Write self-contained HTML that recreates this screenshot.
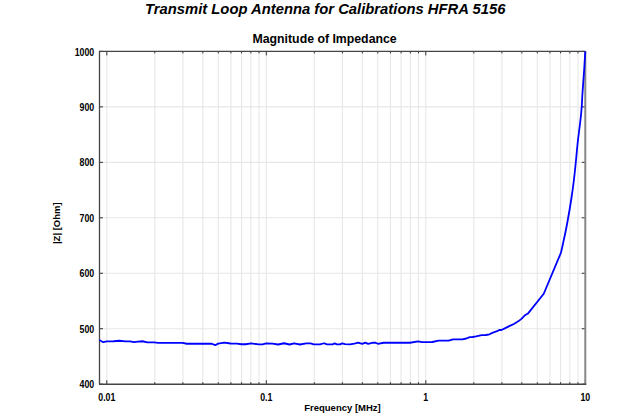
<!DOCTYPE html>
<html><head><meta charset="utf-8"><style>
html,body{margin:0;padding:0;background:#fff;}
body{width:640px;height:420px;overflow:hidden;}
svg{display:block;font-family:"Liberation Sans",sans-serif;}
</style></head><body>
<svg width="640" height="420" viewBox="0 0 640 420">
<rect width="640" height="420" fill="#fff"/>
<text x="325.2" y="14.1" text-anchor="middle" font-size="14.8" font-weight="bold" font-style="italic" fill="#000">Transmit Loop Antenna for Calibrations HFRA 5156</text>
<text x="324.6" y="42.9" text-anchor="middle" font-size="12.3" font-weight="bold" fill="#000">Magnitude of Impedance</text>
<g stroke="#e7e7e7" stroke-width="1.1" fill="none">
<line x1="106.80" y1="51.40" x2="106.80" y2="384.20"/>
<line x1="154.81" y1="51.40" x2="154.81" y2="384.20"/>
<line x1="182.90" y1="51.40" x2="182.90" y2="384.20"/>
<line x1="202.83" y1="51.40" x2="202.83" y2="384.20"/>
<line x1="218.28" y1="51.40" x2="218.28" y2="384.20"/>
<line x1="230.91" y1="51.40" x2="230.91" y2="384.20"/>
<line x1="241.59" y1="51.40" x2="241.59" y2="384.20"/>
<line x1="250.84" y1="51.40" x2="250.84" y2="384.20"/>
<line x1="259.00" y1="51.40" x2="259.00" y2="384.20"/>
<line x1="266.30" y1="51.40" x2="266.30" y2="384.20"/>
<line x1="314.31" y1="51.40" x2="314.31" y2="384.20"/>
<line x1="342.40" y1="51.40" x2="342.40" y2="384.20"/>
<line x1="362.33" y1="51.40" x2="362.33" y2="384.20"/>
<line x1="377.78" y1="51.40" x2="377.78" y2="384.20"/>
<line x1="390.41" y1="51.40" x2="390.41" y2="384.20"/>
<line x1="401.09" y1="51.40" x2="401.09" y2="384.20"/>
<line x1="410.34" y1="51.40" x2="410.34" y2="384.20"/>
<line x1="418.50" y1="51.40" x2="418.50" y2="384.20"/>
<line x1="425.80" y1="51.40" x2="425.80" y2="384.20"/>
<line x1="473.81" y1="51.40" x2="473.81" y2="384.20"/>
<line x1="501.90" y1="51.40" x2="501.90" y2="384.20"/>
<line x1="521.83" y1="51.40" x2="521.83" y2="384.20"/>
<line x1="537.29" y1="51.40" x2="537.29" y2="384.20"/>
<line x1="549.92" y1="51.40" x2="549.92" y2="384.20"/>
<line x1="560.59" y1="51.40" x2="560.59" y2="384.20"/>
<line x1="569.84" y1="51.40" x2="569.84" y2="384.20"/>
<line x1="578.00" y1="51.40" x2="578.00" y2="384.20"/>
<line x1="585.30" y1="51.40" x2="585.30" y2="384.20"/>
<line x1="99.50" y1="328.73" x2="585.30" y2="328.73"/>
<line x1="99.50" y1="273.27" x2="585.30" y2="273.27"/>
<line x1="99.50" y1="217.80" x2="585.30" y2="217.80"/>
<line x1="99.50" y1="162.33" x2="585.30" y2="162.33"/>
<line x1="99.50" y1="106.87" x2="585.30" y2="106.87"/>
</g>
<g stroke="#333" stroke-width="1">
<line x1="106.80" y1="384.20" x2="106.80" y2="380.20"/>
<line x1="106.80" y1="51.40" x2="106.80" y2="55.40"/>
<line x1="154.81" y1="384.20" x2="154.81" y2="382.20"/>
<line x1="154.81" y1="51.40" x2="154.81" y2="53.40"/>
<line x1="182.90" y1="384.20" x2="182.90" y2="382.20"/>
<line x1="182.90" y1="51.40" x2="182.90" y2="53.40"/>
<line x1="202.83" y1="384.20" x2="202.83" y2="382.20"/>
<line x1="202.83" y1="51.40" x2="202.83" y2="53.40"/>
<line x1="218.28" y1="384.20" x2="218.28" y2="382.20"/>
<line x1="218.28" y1="51.40" x2="218.28" y2="53.40"/>
<line x1="230.91" y1="384.20" x2="230.91" y2="382.20"/>
<line x1="230.91" y1="51.40" x2="230.91" y2="53.40"/>
<line x1="241.59" y1="384.20" x2="241.59" y2="382.20"/>
<line x1="241.59" y1="51.40" x2="241.59" y2="53.40"/>
<line x1="250.84" y1="384.20" x2="250.84" y2="382.20"/>
<line x1="250.84" y1="51.40" x2="250.84" y2="53.40"/>
<line x1="259.00" y1="384.20" x2="259.00" y2="382.20"/>
<line x1="259.00" y1="51.40" x2="259.00" y2="53.40"/>
<line x1="266.30" y1="384.20" x2="266.30" y2="380.20"/>
<line x1="266.30" y1="51.40" x2="266.30" y2="55.40"/>
<line x1="314.31" y1="384.20" x2="314.31" y2="382.20"/>
<line x1="314.31" y1="51.40" x2="314.31" y2="53.40"/>
<line x1="342.40" y1="384.20" x2="342.40" y2="382.20"/>
<line x1="342.40" y1="51.40" x2="342.40" y2="53.40"/>
<line x1="362.33" y1="384.20" x2="362.33" y2="382.20"/>
<line x1="362.33" y1="51.40" x2="362.33" y2="53.40"/>
<line x1="377.78" y1="384.20" x2="377.78" y2="382.20"/>
<line x1="377.78" y1="51.40" x2="377.78" y2="53.40"/>
<line x1="390.41" y1="384.20" x2="390.41" y2="382.20"/>
<line x1="390.41" y1="51.40" x2="390.41" y2="53.40"/>
<line x1="401.09" y1="384.20" x2="401.09" y2="382.20"/>
<line x1="401.09" y1="51.40" x2="401.09" y2="53.40"/>
<line x1="410.34" y1="384.20" x2="410.34" y2="382.20"/>
<line x1="410.34" y1="51.40" x2="410.34" y2="53.40"/>
<line x1="418.50" y1="384.20" x2="418.50" y2="382.20"/>
<line x1="418.50" y1="51.40" x2="418.50" y2="53.40"/>
<line x1="425.80" y1="384.20" x2="425.80" y2="380.20"/>
<line x1="425.80" y1="51.40" x2="425.80" y2="55.40"/>
<line x1="473.81" y1="384.20" x2="473.81" y2="382.20"/>
<line x1="473.81" y1="51.40" x2="473.81" y2="53.40"/>
<line x1="501.90" y1="384.20" x2="501.90" y2="382.20"/>
<line x1="501.90" y1="51.40" x2="501.90" y2="53.40"/>
<line x1="521.83" y1="384.20" x2="521.83" y2="382.20"/>
<line x1="521.83" y1="51.40" x2="521.83" y2="53.40"/>
<line x1="537.29" y1="384.20" x2="537.29" y2="382.20"/>
<line x1="537.29" y1="51.40" x2="537.29" y2="53.40"/>
<line x1="549.92" y1="384.20" x2="549.92" y2="382.20"/>
<line x1="549.92" y1="51.40" x2="549.92" y2="53.40"/>
<line x1="560.59" y1="384.20" x2="560.59" y2="382.20"/>
<line x1="560.59" y1="51.40" x2="560.59" y2="53.40"/>
<line x1="569.84" y1="384.20" x2="569.84" y2="382.20"/>
<line x1="569.84" y1="51.40" x2="569.84" y2="53.40"/>
<line x1="578.00" y1="384.20" x2="578.00" y2="382.20"/>
<line x1="578.00" y1="51.40" x2="578.00" y2="53.40"/>
<line x1="585.30" y1="384.20" x2="585.30" y2="380.20"/>
<line x1="585.30" y1="51.40" x2="585.30" y2="55.40"/>
<line x1="99.50" y1="384.20" x2="103.00" y2="384.20"/>
<line x1="585.30" y1="384.20" x2="581.80" y2="384.20"/>
<line x1="99.50" y1="328.73" x2="103.00" y2="328.73"/>
<line x1="585.30" y1="328.73" x2="581.80" y2="328.73"/>
<line x1="99.50" y1="273.27" x2="103.00" y2="273.27"/>
<line x1="585.30" y1="273.27" x2="581.80" y2="273.27"/>
<line x1="99.50" y1="217.80" x2="103.00" y2="217.80"/>
<line x1="585.30" y1="217.80" x2="581.80" y2="217.80"/>
<line x1="99.50" y1="162.33" x2="103.00" y2="162.33"/>
<line x1="585.30" y1="162.33" x2="581.80" y2="162.33"/>
<line x1="99.50" y1="106.87" x2="103.00" y2="106.87"/>
<line x1="585.30" y1="106.87" x2="581.80" y2="106.87"/>
<line x1="99.50" y1="51.40" x2="103.00" y2="51.40"/>
<line x1="585.30" y1="51.40" x2="581.80" y2="51.40"/>
</g>
<line x1="585.30" y1="51.40" x2="585.30" y2="384.20" stroke="#888" stroke-width="2"/>
<path d="M99.50,384.20 V51.40 H585.30" stroke="#444" stroke-width="1.3" fill="none"/>
<line x1="99.00" y1="384.20" x2="586.30" y2="384.20" stroke="#444" stroke-width="1.5"/>
<polyline points="99.25,340 103.3,342.2 106.75,341.4 113.6,341.25 119.25,340.75 125.5,341.4 129.9,341.4 134.25,342.2 138,341.6 142.4,341.25 147.4,342.3 154.25,342.3 158,342.9 182.7,342.9 186.75,343.75 211.75,343.75 215.3,345.2 218.1,343.6 224.4,342.6 230.6,343.5 236.9,343.6 241.25,344.25 245.6,344.25 251.25,343.4 258.75,344.4 262.5,344.4 266.25,343.4 272.5,343.6 278.1,344.5 284.1,343.25 289.4,344.5 294.1,343.4 300,344.5 306.25,343.4 310.6,343.4 313.75,344.4 320,344.3 324.1,343.25 326.9,344.4 332.5,344.4 334.7,343.4 336.9,344.4 340,344.4 342.2,343.4 345,344.2 350,344.4 354.4,343.6 358.1,342.6 362.2,343.8 365.3,342.6 368.1,343.8 373.1,342.6 375.6,342.75 377.8,343.8 383.75,342.75 395,342.6 410,342.75 418.1,341.4 421.9,342.1 432.4,342 438.6,340.6 448.6,340.6 453,339.4 462.4,339.4 466.3,338.5 469.8,337.1 472.6,337 476.1,336.4 481.7,335.2 485.9,335 489.5,334.3 492.3,332.9 497.1,331.2 499.3,329.9 501.4,330 504.3,328.6 509.3,326.1 514.3,323.7 518.6,321.1 521.4,318.9 524.6,315.6 527.9,313.6 543.75,293.75 560.9,252.8 561.58,250.0 562.27,247.0 562.92,244.0 563.55,241.0 564.2,238.0 564.86,235.0 565.48,232.0 566.09,229.0 566.67,226.0 567.23,223.0 567.78,220.0 568.3,217.0 568.84,214.0 569.36,211.0 569.86,208.0 570.35,205.0 570.83,202.0 571.29,199.0 571.74,196.0 572.18,193.0 572.6,190.0 573.0,187.0 573.4,184.0 573.78,181.0 574.13,178.0 574.47,175.0 574.8,172.0 575.12,169.0 575.43,166.0 575.73,163.0 576.02,160.0 576.31,157.0 576.59,154.0 576.86,151.0 577.15,148.0 577.46,145.0 577.76,142.0 578.09,139.0 578.47,136.0 578.86,133.0 579.23,130.0 579.61,127.0 579.97,124.0 580.33,121.0 580.68,118.0 581.0,115.0 581.28,112.0 581.55,109.0 581.78,106.0 581.96,103.0 582.11,100.0 582.25,97.0 582.42,94.0 582.63,91.0 582.85,88.0 583.07,85.0 583.29,82.0 583.51,79.0 583.73,76.0 583.94,73.0 584.14,70.0 584.34,67.0 584.53,64.0 584.71,61.0 584.9,58.0 585.08,55.0 585.26,52.0 585.3,51.4" fill="none" stroke="#0000ff" stroke-width="1.8" stroke-linejoin="round"/>
<g font-size="9.5" font-weight="bold" fill="#000">
<text transform="translate(94.2,388.30) scale(0.88,1)" text-anchor="end" font-size="10">400</text>
<text transform="translate(94.2,332.83) scale(0.88,1)" text-anchor="end" font-size="10">500</text>
<text transform="translate(94.2,277.37) scale(0.88,1)" text-anchor="end" font-size="10">600</text>
<text transform="translate(94.2,221.90) scale(0.88,1)" text-anchor="end" font-size="10">700</text>
<text transform="translate(94.2,166.43) scale(0.88,1)" text-anchor="end" font-size="10">800</text>
<text transform="translate(94.2,110.97) scale(0.88,1)" text-anchor="end" font-size="10">900</text>
<text transform="translate(94.2,55.50) scale(0.88,1)" text-anchor="end" font-size="10">1000</text>
<text transform="translate(106.80,400.6) scale(0.88,1)" text-anchor="middle" font-size="10">0.01</text>
<text transform="translate(266.30,400.6) scale(0.88,1)" text-anchor="middle" font-size="10">0.1</text>
<text transform="translate(425.80,400.6) scale(0.88,1)" text-anchor="middle" font-size="10">1</text>
<text transform="translate(585.30,400.6) scale(0.88,1)" text-anchor="middle" font-size="10">10</text>
<text x="342.5" y="410.7" text-anchor="middle">Frequency [MHz]</text>
<text transform="translate(60.0,223.2) rotate(-90)" text-anchor="middle">|Z| [Ohm]</text>
</g>
</svg>
</body></html>
